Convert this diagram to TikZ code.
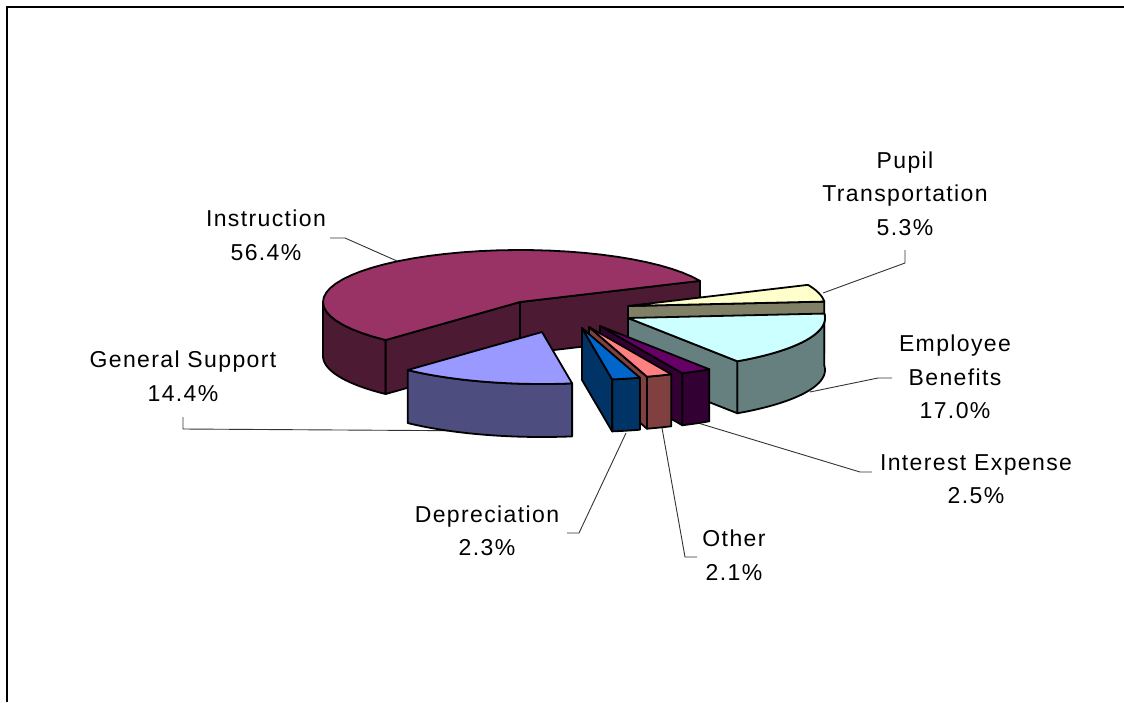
\documentclass[tikz,border=0pt]{standalone}
\usepackage{fontspec}
\setmainfont{Liberation Sans}[LetterSpace=6]
\definecolor{insT}{HTML}{993366}\definecolor{insS}{HTML}{4D1A33}
\definecolor{gsT}{HTML}{9999FF}\definecolor{gsS}{HTML}{4D4D80}
\definecolor{ptT}{HTML}{FFFFCC}\definecolor{ptS}{HTML}{808066}
\definecolor{ebT}{HTML}{CCFFFF}\definecolor{ebS}{HTML}{668080}
\definecolor{ieT}{HTML}{660066}\definecolor{ieS}{HTML}{330033}
\definecolor{otT}{HTML}{FF8080}\definecolor{otS}{HTML}{804040}
\definecolor{dpT}{HTML}{0066CC}\definecolor{dpS}{HTML}{003366}
\def\ra{197}\def\rb{52}
% rim face: cx cy t1 t2 depth colour
\newcommand\rimface[6]{\filldraw[fill=#6,outl] plot[domain=#3:#4,samples=30] ({#1+\ra*cos(\x)},{#2-\rb*sin(\x)}) -- plot[domain=#4:#3,samples=30] ({#1+\ra*cos(\x)},{#2+#5-\rb*sin(\x)}) -- cycle;}
% cut face: cx cy t depth colour
\newcommand\cutface[5]{\filldraw[fill=#5,outl] (#1,#2) -- ({#1+\ra*cos(#3)},{#2-\rb*sin(#3)}) -- ({#1+\ra*cos(#3)},{#2+#4-\rb*sin(#3)}) -- (#1,{#2+#4}) -- cycle;}
% top face: cx cy t1 t2 colour
\newcommand\topface[5]{\filldraw[fill=#5,outl] (#1,#2) -- plot[domain=#3:#4,samples=40] ({#1+\ra*cos(\x)},{#2-\rb*sin(\x)}) -- cycle;}
\begin{document}
\begin{tikzpicture}[x=1pt,y=-1pt,
  outl/.style={draw=black,line width=1.8pt,line join=round},
  lbl/.style={align=center,inner sep=0pt,font=\fontsize{23}{33.5}\selectfont},
  leader/.style={draw=black!80,line width=0.9pt}]
\useasboundingbox (0,0) rectangle (1124,702);
\fill[white] (0,0) rectangle (1124,702);
\draw[line width=1.3pt] (7,702) -- (7,7) -- (1124,7);
% labels
\node[lbl] (ins) at (266,235.5) {Instruction\\56.4\%};
\node[lbl] (gs) at (183,376) {General Support\\14.4\%};
\node[lbl] (pt) at (905,193.5) {Pupil\\Transportation\\5.3\%};
\node[lbl] (eb) at (955,377) {Employee\\Benefits\\17.0\%};
\node[lbl] (ie) at (976,479) {Interest Expense\\2.5\%};
\node[lbl] (dep) at (487,531) {Depreciation\\2.3\%};
\node[lbl] (oth) at (734,555) {Other\\2.1\%};
% leader lines
\coordinate (insA) at (330,238); \coordinate (insB) at (345,238); \coordinate (insC) at (397,261);
\coordinate (gsA) at (183,417); \coordinate (gsB) at (183,429); \coordinate (gsC) at (500,431);
\coordinate (ptA) at (905,250); \coordinate (ptB) at (905,263); \coordinate (ptC) at (823,293);
\coordinate (ebA) at (892,378); \coordinate (ebB) at (878,378); \coordinate (ebC) at (810,392);
\coordinate (ieA) at (872,472); \coordinate (ieB) at (860,472); \coordinate (ieC) at (698,423);
\coordinate (dpA) at (567,533); \coordinate (dpB) at (579,533); \coordinate (dpC) at (626,433);
\coordinate (otA) at (697,557); \coordinate (otB) at (685,557); \coordinate (otC) at (662,428);
\draw[leader] (insA) -- (insB) -- (insC);
\draw[leader] (gsA) -- (gsB) -- (gsC);
\draw[leader] (ptA) -- (ptB) -- (ptC);
\draw[leader] (ebA) -- (ebB) -- (ebC);
\draw[leader] (ieA) -- (ieB) -- (ieC);
\draw[leader] (dpA) -- (dpB) -- (dpC);
\draw[leader] (otA) -- (otB) -- (otC);
% Instruction
\rimface{520}{302}{180}{227}{54}{insS}
\cutface{520}{302}{227}{54}{insS}
\cutface{520}{302}{24}{52}{insS}
\topface{520}{302}{24}{227}{insT}
% Pupil Transportation
\cutface{628}{306}{4.9}{52}{ptS}
\topface{628}{306}{4.9}{24}{ptT}
% Employee Benefits
\rimface{628}{318}{-56.3}{4.9}{52}{ebS}
\cutface{628}{318}{-56.3}{52}{ebS}
\topface{628}{318}{-56.3}{4.9}{ebT}
% Interest Expense
\rimface{600}{326}{-65.3}{-56.3}{52}{ieS}
\cutface{600}{326}{-65.3}{52}{ieS}
\topface{600}{326}{-65.3}{-56.3}{ieT}
% Other
\rimface{589}{327}{-72.9}{-65.3}{52}{otS}
\cutface{589}{327}{-72.9}{52}{otS}
\topface{589}{327}{-72.9}{-65.3}{otT}
% Depreciation
\rimface{582}{328}{-81.2}{-72.9}{52}{dpS}
\cutface{582}{328}{-81.2}{52}{dpS}
\topface{582}{328}{-81.2}{-72.9}{dpT}
% General Support
\rimface{542}{332}{-133}{-81.2}{53}{gsS}
\topface{542}{332}{-133}{-81.2}{gsT}
\end{tikzpicture}
\end{document}
